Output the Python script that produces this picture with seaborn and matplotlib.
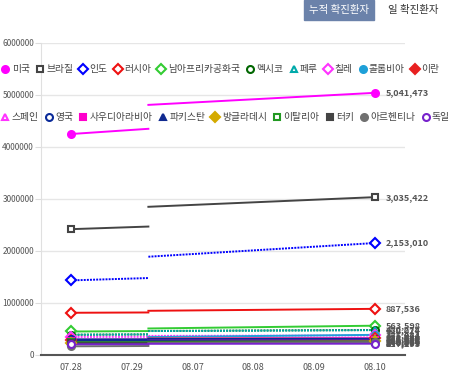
import seaborn as sns
import matplotlib.pyplot as plt
import pandas as pd
from matplotlib.lines import Line2D

# dates on the category axis
dates = ["07.28", "07.29", "08.07", "08.08", "08.09", "08.10"]
break_x = 1.27  # where the second piece of each line starts

countries = ["미국", "브라질", "인도", "러시아", "남아프리카공화국", "멕시코", "페루", "칠레", "콜롬비아", "이란",
             "스페인", "영국", "사우디아라비아", "파키스탄", "방글라데시", "이탈리아", "터키", "아르헨티나", "독일"]
v_0728 = [4250000, 2420000, 1435000, 812000, 452000, 390000, 389000, 347000, 248000, 293000,
          280000, 300000, 268000, 274000, 229000, 246000, 227000, 167000, 206000]
v_0729 = [4350000, 2470000, 1480000, 818000, 460000, 396000, 395000, 349000, 257000, 296000,
          282000, 301000, 270000, 275000, 232000, 246500, 228000, 173000, 207000]
v_break = [4810000, 2850000, 1890000, 850000, 510000, 462000, 460000, 368000, 345000, 318000,
           310000, 308000, 284000, 282000, 252000, 249000, 237000, 230000, 215000]
v_0810 = [5041473, 3035422, 2153010, 887536, 563598, 480278, 478024, 375044, 387481, 328844,
          322980, 311641, 289947, 284660, 260507, 250566, 240804, 246499, 217293]

colors = ["#ff00ff", "#444444", "#0000ff", "#ee1111", "#33cc33", "#006600", "#00aaaa", "#ff33ff", "#1ea0d8", "#e82020",
          "#ff33ff", "#0a2a99", "#ff00cc", "#102a90", "#d4aa00", "#229922", "#444444", "#707070", "#7722cc"]
markers = ["o", "s", "D", "D", "D", "o", "^", "D", "o", "D",
           "^", "o", "s", "^", "D", "s", "s", "o", "o"]
filled = [True, False, False, False, False, False, False, False, True, True,
          False, False, True, True, True, False, True, True, False]
dotted = ["인도", "멕시코", "페루", "칠레"]

rows = []
for i, c in enumerate(countries):
    rows.append((c, 0, 0, v_0728[i]))
    rows.append((c, 0, break_x, v_0729[i]))
    rows.append((c, 1, break_x, v_break[i]))
    rows.append((c, 1, 5, v_0810[i]))
df = pd.DataFrame(rows, columns=["country", "seg", "x", "v"])

plt.rcParams["font.family"] = ["Noto Sans CJK KR", "DejaVu Sans"]
fig = plt.figure(figsize=(4.5, 3.77), dpi=100)
ax = fig.add_axes([41 / 450, 22 / 377, 364 / 450, 312 / 377])

dashes = {c: ((1, 0.6) if c in dotted else "") for c in countries}
sns.lineplot(data=df, x="x", y="v", hue="country", units="seg", estimator=None,
             style="country", dashes=dashes, palette=dict(zip(countries, colors)),
             linewidth=1.4, legend=False, ax=ax, sort=False)

for i, c in enumerate(countries):
    fc = colors[i] if filled[i] else "white"
    ax.plot([0, 5], [v_0728[i], v_0810[i]], linestyle="none", marker=markers[i],
            markersize=5, markerfacecolor=fc, markeredgecolor=colors[i], markeredgewidth=1.5, zorder=5)
    ax.annotate(f"{v_0810[i]:,}", (5, v_0810[i]), xytext=(8, 0), textcoords="offset points",
                va="center", ha="left", fontsize=6.5, color="#555555", fontweight="bold",
                annotation_clip=False)

ax.set_xlim(-0.5, 5.5)
ax.set_ylim(0, 6000000)
ax.set_xticks(range(len(dates)))
ax.set_xticklabels(dates)
ax.set_yticks(range(0, 6000001, 1000000))
ax.set_yticklabels([str(t) for t in range(0, 6000001, 1000000)])
ax.tick_params(axis="x", length=0, labelsize=6.5, colors="#555555", pad=6)
ax.tick_params(axis="y", length=4, color="#dddddd", labelsize=6, colors="#555555", pad=1)
ax.grid(axis="y", color="#e6e6e6", linewidth=1)
ax.set_axisbelow(True)
for s in ["top", "right"]:
    ax.spines[s].set_visible(False)
ax.spines["left"].set_color("#e0e0e0")
ax.spines["bottom"].set_color("#555555")
ax.spines["bottom"].set_linewidth(1.5)
ax.set_xlabel("")
ax.set_ylabel("")

# legend in two rows at the top of the plot area
def handles(idx):
    hs = []
    for i in idx:
        fc = colors[i] if filled[i] else "white"
        hs.append(Line2D([], [], linestyle="none", marker=markers[i], markersize=5,
                         markerfacecolor=fc, markeredgecolor=colors[i], markeredgewidth=1.5))
    return hs

row1 = list(range(10))
row2 = list(range(10, 19))
for idx, y in [(row1, 1 - 69 / 377), (row2, 1 - 117 / 377)]:
    leg = fig.legend(handles(idx), [countries[i] for i in idx], loc="center left",
                     bbox_to_anchor=(0.0, y), ncol=len(idx), frameon=False, fontsize=7,
                     handlelength=0.7, handletextpad=0.3, columnspacing=0.7, borderaxespad=0,
                     borderpad=0.2, labelcolor="#444444")

# tab buttons at top right
fig.text(339 / 450, 1 - 10 / 377, "누적 확진환자", ha="center", va="center", fontsize=7.5,
         color="white", bbox=dict(boxstyle="square,pad=0.45", fc="#6b82aa", ec="#6b82aa"))
fig.text(413 / 450, 1 - 10 / 377, "일 확진환자", ha="center", va="center", fontsize=7.5,
         color="#333333", bbox=dict(boxstyle="square,pad=0.45", fc="white", ec="white"))

fig.savefig("out.png", dpi=100)
